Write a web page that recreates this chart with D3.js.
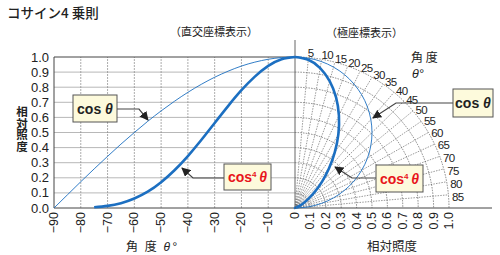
<!DOCTYPE html>
<html>
<head>
<meta charset="utf-8">
<script src="https://cdn.jsdelivr.net/npm/d3@7"></script>
<style>
  body { margin: 0; background: #fff; }
  text { font-family: "Liberation Sans", Arial, sans-serif; fill: #222; }
  .jp { font-family: "Noto Sans CJK JP", sans-serif; }
</style>
</head>
<body>
<div id="chart"></div>
<script>
// angle in degrees, relative illuminance read at 5 degree steps
const angles = [0, 5, 10, 15, 20, 25, 30, 35, 40, 45, 50, 55, 60, 65, 70, 75, 80, 85, 90];
const cosVals = [1, 0.996, 0.985, 0.966, 0.940, 0.906, 0.866, 0.819, 0.766, 0.707,
                 0.643, 0.574, 0.5, 0.423, 0.342, 0.259, 0.174, 0.087, 0];
const cos4Vals = [1, 0.985, 0.941, 0.870, 0.780, 0.675, 0.563, 0.450, 0.344, 0.25,
                  0.171, 0.108, 0.063, 0.032, 0.014, 0.0045, 0.001, 0.0001, 0];

const yTicks = [0, 0.1, 0.2, 0.3, 0.4, 0.5, 0.6, 0.7, 0.8, 0.9, 1.0];
const xTicksLeft = [-90, -80, -70, -60, -50, -40, -30, -20, -10, 0];
const xTicksRight = [0, 0.1, 0.2, 0.3, 0.4, 0.5, 0.6, 0.7, 0.8, 0.9, 1.0];
const polarAngles = [5, 10, 15, 20, 25, 30, 35, 40, 45, 50, 55, 60, 65, 70, 75, 80, 85];
const polarRings = [0.1, 0.2, 0.3, 0.4, 0.5, 0.6, 0.7, 0.8, 0.9, 1.0];

const width = 500, height = 255;
const blue = "#1c6fc1", red = "#e8141b";

const svg = d3.select("#chart").append("svg")
    .attr("width", width)
    .attr("height", height);

const x = d3.scaleLinear().domain([-90, 0]).range([54, 295]);
const y = d3.scaleLinear().domain([0, 1]).range([208, 57]);
// polar: horizontal and vertical radius scales
const px = d3.scaleLinear().domain([0, 1]).range([295, 449]);
const py = y;
const rad = d => d * Math.PI / 180;

// ---- left grid
const grid = svg.append("g");
grid.selectAll(".hg").data(yTicks.slice(1, -1)).enter().append("line")
    .attr("x1", x(-90)).attr("x2", x(0))
    .attr("y1", d => y(d)).attr("y2", d => y(d))
    .attr("stroke", "#9a9a9a").attr("stroke-width", 0.7);
grid.selectAll(".vg").data(xTicksLeft.slice(1, -1)).enter().append("line")
    .attr("x1", d => x(d)).attr("x2", d => x(d))
    .attr("y1", y(0)).attr("y2", y(1))
    .attr("stroke", "#8a8a8a").attr("stroke-width", 0.7)
    .attr("stroke-dasharray", "2,1");

// ---- polar grid
const pg = svg.append("g");
pg.selectAll("path").data(polarRings).enter().append("path")
    .attr("d", r => {
        const rx = px(r) - px(0), ry = py(0) - py(r);
        return `M${px(0)},${py(r)} A${rx},${ry} 0 0 1 ${px(r)},${py(0)}`;
    })
    .attr("fill", "none").attr("stroke", "#555").attr("stroke-width", 0.7)
    .attr("stroke-dasharray", "1.5,1.2");
pg.selectAll("line").data(polarAngles).enter().append("line")
    .attr("x1", px(0)).attr("y1", py(0))
    .attr("x2", a => px(Math.sin(rad(a))))
    .attr("y2", a => py(Math.cos(rad(a))))
    .attr("stroke", "#555").attr("stroke-width", 0.6)
    .attr("stroke-dasharray", "1.5,1.2");
pg.selectAll("text").data(polarAngles).enter().append("text")
    .attr("x", a => px(1.03 * Math.sin(rad(a))) - 1)
    .attr("y", a => py(1.03 * Math.cos(rad(a))) + 4 + 3 * Math.sin(rad(a)))
    .attr("font-size", 11.5).attr("letter-spacing", -0.7)
    .text(d => d);

// ---- axes frame
const frame = svg.append("g").attr("stroke", "#444").attr("fill", "none");
frame.append("line").attr("x1", x(-90)).attr("x2", x(-90)).attr("y1", y(0)).attr("y2", y(1));
frame.append("line").attr("x1", x(-90)).attr("x2", x(0)).attr("y1", y(1)).attr("y2", y(1));
frame.append("line").attr("x1", x(0)).attr("x2", x(0)).attr("y1", 40).attr("y2", y(0))
    .attr("stroke", "#666");
frame.append("line").attr("x1", x(-90)).attr("x2", 492).attr("y1", y(0)).attr("y2", y(0));

// y tick labels
svg.append("g").selectAll("text").data(yTicks).enter().append("text")
    .attr("x", 49).attr("y", d => y(d) + 4.5)
    .attr("text-anchor", "end").attr("font-size", 13)
    .text(d => d.toFixed(1));

// x tick labels (rotated); the shared 0 is drawn once
svg.append("g").selectAll("text").data(xTicksLeft).enter().append("text")
    .attr("transform", d => `translate(${x(d) + 4},212) rotate(-90)`)
    .attr("text-anchor", "end").attr("font-size", 12.5)
    .text(d => d === 0 ? "0" : "\u2212" + Math.abs(d));
svg.append("g").selectAll("text").data(xTicksRight.filter(d => d > 0)).enter().append("text")
    .attr("transform", d => `translate(${px(d) + 4},212) rotate(-90)`)
    .attr("text-anchor", "end").attr("font-size", 12.5)
    .text(d => d.toFixed(1));

// ---- curves
const leftLine = d3.line()
    .x(d => x(-d[0])).y(d => y(d[1]))
    .curve(d3.curveNatural);
const polarLine = d3.line()
    .x(d => px(d[1] * Math.sin(rad(d[0]))))
    .y(d => py(d[1] * Math.cos(rad(d[0]))))
    .curve(d3.curveNatural);

const cosPts = angles.map((a, i) => [a, cosVals[i]]);
const cos4Pts = angles.map((a, i) => [a, cos4Vals[i]]);

svg.append("path").attr("d", leftLine(cosPts))
    .attr("fill", "none").attr("stroke", blue).attr("stroke-width", 0.9);
svg.append("path").attr("d", leftLine(cos4Pts.filter(d => d[0] <= 75)))
    .attr("fill", "none").attr("stroke", blue).attr("stroke-width", 2.6);
svg.append("path").attr("d", polarLine(cosPts))
    .attr("fill", "none").attr("stroke", blue).attr("stroke-width", 0.9);
svg.append("path").attr("d", polarLine(cos4Pts))
    .attr("fill", "none").attr("stroke", blue).attr("stroke-width", 2.6);

// ---- annotations
svg.append("defs").append("marker")
    .attr("id", "arr").attr("viewBox", "0 0 10 10")
    .attr("refX", 9).attr("refY", 5)
    .attr("markerWidth", 9).attr("markerHeight", 9)
    .attr("markerUnits", "userSpaceOnUse")
    .attr("orient", "auto")
    .append("path").attr("d", "M0,0 L10,5 L0,10 z").attr("fill", "#222");

function note(bx, by, bw, bh, sup, color, pts) {
    svg.append("polyline")
        .attr("points", pts.map(p => p.join(",")).join(" "))
        .attr("fill", "none").attr("stroke", "#444").attr("stroke-width", 1.2)
        .attr("marker-end", "url(#arr)");
    svg.append("rect").attr("x", bx).attr("y", by).attr("width", bw).attr("height", bh)
        .attr("fill", "#fdfadc").attr("stroke", "#555").attr("stroke-width", 1);
    const t = svg.append("text").attr("x", bx + bw / 2).attr("y", by + bh / 2 + 5)
        .attr("text-anchor", "middle").attr("font-size", 14).attr("font-weight", "bold")
        .style("fill", color);
    t.append("tspan").text("cos");
    if (sup) t.append("tspan").attr("font-size", 8).attr("dy", -5).text("4");
    t.append("tspan").attr("dy", sup ? 5 : 0).attr("font-style", "italic").text(sup ? "\u2009θ" : " θ");
}

note(73, 95, 44, 27, false, "#222", [[117, 109], [139, 109], [148, 120]]);
note(224, 164, 47, 26, true, red, [[224, 178], [193, 178], [182, 168]]);
note(453, 89, 40, 28, false, "#222", [[453, 103], [396, 103], [373, 118]]);
note(376, 165, 47, 27, true, red, [[376, 178], [352, 178], [335, 167]]);

// ---- titles and axis titles
svg.append("text").attr("class", "jp").attr("x", 7).attr("y", 18)
    .attr("font-size", 13.5).attr("font-weight", 500).text("コサイン4 乗則");
svg.append("text").attr("class", "jp").attr("x", 170).attr("y", 36)
    .attr("font-size", 11).text("（直交座標表示）");
svg.append("text").attr("class", "jp").attr("x", 326).attr("y", 37)
    .attr("font-size", 11).text("（極座標表示）");

// vertical y-axis title
svg.append("text").attr("class", "jp")
    .attr("x", 22).attr("y", 106)
    .attr("font-size", 11.5).attr("font-weight", "bold")
    .style("writing-mode", "vertical-rl")
    .style("letter-spacing", "0px")
    .text("相対照度");

svg.append("text").attr("class", "jp").attr("x", 126).attr("y", 251)
    .attr("font-size", 12).attr("letter-spacing", 2).text("角 度 ")
    .append("tspan").attr("font-style", "italic").style("font-family", "Liberation Sans").text("θ°");
svg.append("text").attr("class", "jp").attr("x", 367).attr("y", 251)
    .attr("font-size", 12.5).text("相対照度");
svg.append("text").attr("class", "jp").attr("x", 411).attr("y", 62)
    .attr("font-size", 12).text("角 度");
svg.append("text").attr("x", 412).attr("y", 78)
    .attr("font-size", 12.5).attr("font-style", "italic").text("θ°");
</script>
</body>
</html>
